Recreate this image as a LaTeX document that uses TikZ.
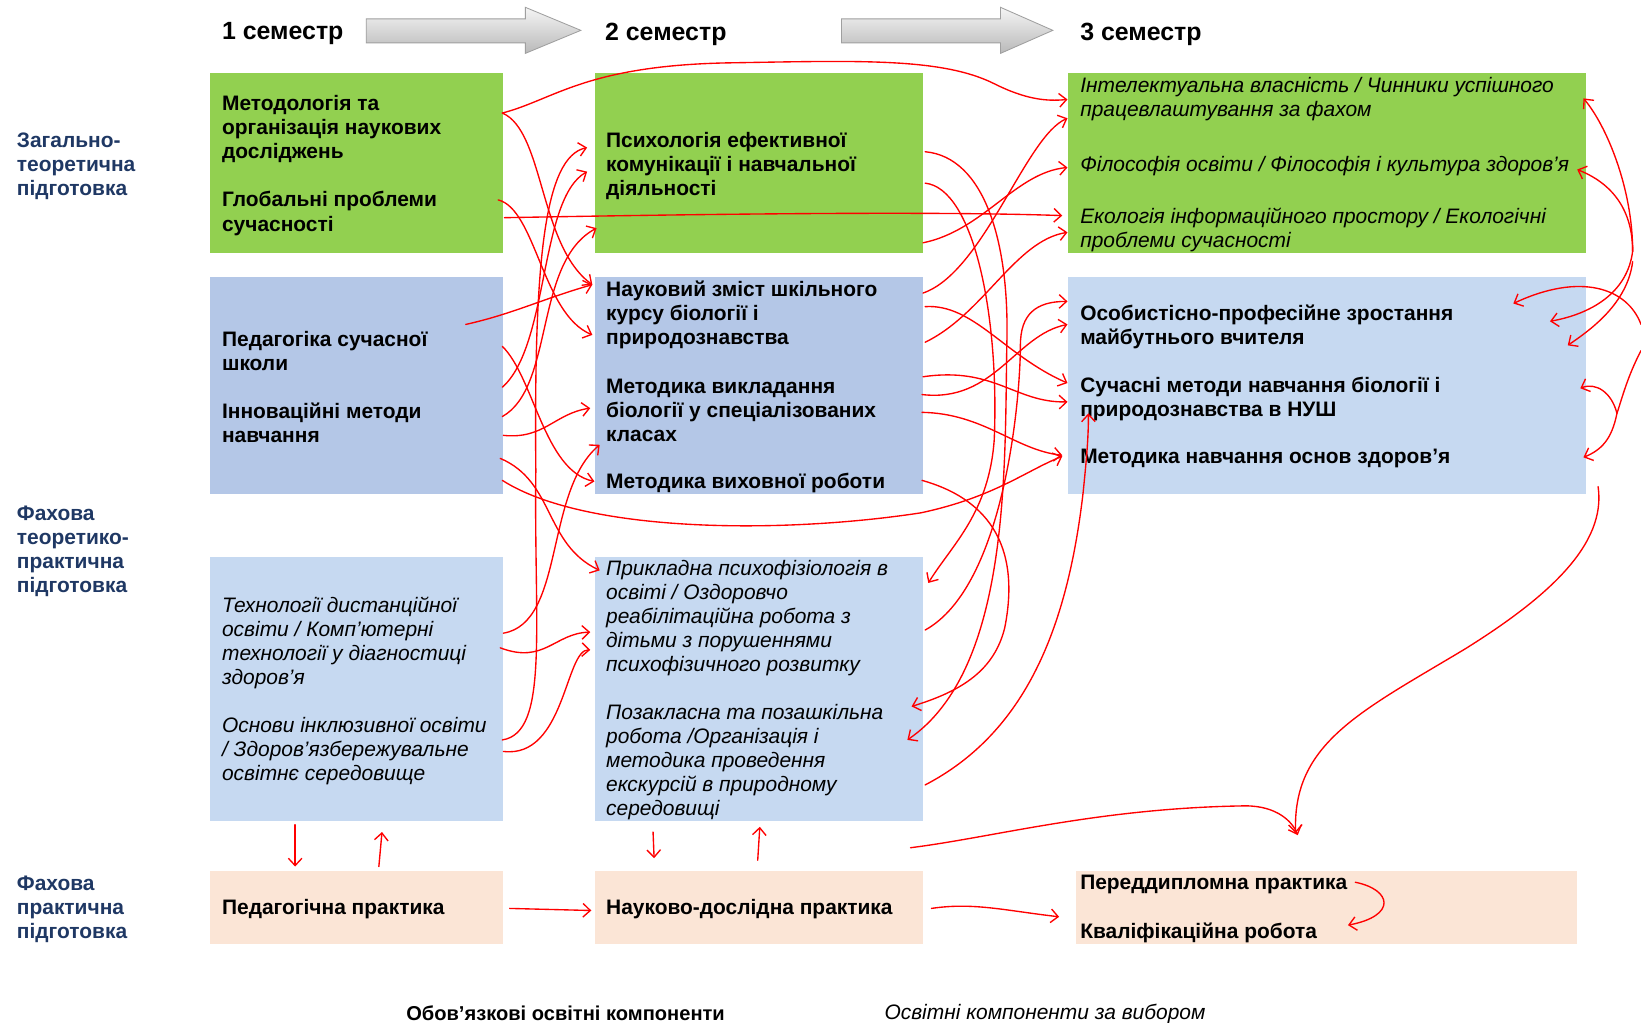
\documentclass[tikz,border=0pt]{standalone}
\usepackage{fontspec}
\setmainfont{Liberation Sans}
\usetikzlibrary{arrows.meta}
\definecolor{cgreen}{HTML}{92D050}
\definecolor{cblueD}{HTML}{B4C7E7}
\definecolor{cblueL}{HTML}{C6D9F1}
\definecolor{cpeach}{HTML}{FBE5D6}
\definecolor{cnavy}{HTML}{1F3864}
\definecolor{cred}{HTML}{FF0000}
\begin{document}
\begin{tikzpicture}[x=1pt,y=-1pt,
  box/.style={draw=none,inner sep=0pt,anchor=north west},
  bt/.style={anchor=west,align=left,inner sep=0pt,yshift=-2.5pt,font=\fontsize{20}{23}\selectfont\bfseries},
  itx/.style={anchor=west,align=left,inner sep=0pt,yshift=-2.5pt,font=\fontsize{20}{23}\selectfont\itshape},
  lab/.style={bt,text=cnavy},
  head/.style={anchor=west,inner sep=0pt,yshift=-2.5pt,font=\fontsize{23.8}{27}\selectfont\bfseries},
  rl/.style={draw=cred,line width=1.3pt,line cap=round,line join=round,-{Straight Barb[length=7pt,width=13pt,line width=1.3pt]}},
  garrow/.style={draw=gray!75,top color=gray!8,bottom color=gray!55,line width=0.8pt}
]
\useasboundingbox (0,0) rectangle (1568,977);
\fill[white] (0,0) rectangle (1568,977);

% headers
\node[head] (h1) at (212,30) {1 семестр};
\node[head] (h2) at (578,30) {2 семестр};
\node[head] (h3) at (1032,30) {3 семестр};
\path[garrow] (350,18) -- (502,18) -- (502,7) -- (555,29) -- (502,51) -- (502,41) -- (350,41) -- cycle;
\path[garrow] (804,18) -- (956,18) -- (956,7) -- (1006,29) -- (956,51) -- (956,41) -- (804,41) -- cycle;

% left labels
\node[lab] (l1) at (16,156) {Загально-\\теоретична\\підготовка};
\node[lab] (l2) at (16,524) {Фахова\\теоретико-\\практична\\підготовка};
\node[lab] (l3) at (16,866) {Фахова\\практична\\підготовка};

% boxes
\node[box,fill=cgreen,minimum width=280,minimum height=172] (g1) at (200,70) {};
\node[box,fill=cgreen,minimum width=314,minimum height=172] (g2) at (568,70) {};
\node[box,fill=cgreen,minimum width=495,minimum height=172] (g3) at (1020,70) {};
\node[box,fill=cblueD,minimum width=280,minimum height=208] (b1) at (200,264) {};
\node[box,fill=cblueD,minimum width=314,minimum height=208] (b2) at (568,264) {};
\node[box,fill=cblueL,minimum width=495,minimum height=208] (b3) at (1020,264) {};
\node[box,fill=cblueL,minimum width=280,minimum height=252] (c1) at (200,532) {};
\node[box,fill=cblueL,minimum width=314,minimum height=252] (c2) at (568,532) {};
\node[box,fill=cpeach,minimum width=280,minimum height=70] (p1) at (200,832) {};
\node[box,fill=cpeach,minimum width=314,minimum height=70] (p2) at (568,832) {};
\node[box,fill=cpeach,minimum width=479,minimum height=70] (p3) at (1028,832) {};

% texts row 1
\node[bt] (t1a) at (212,121) {Методологія та\\організація наукових\\досліджень};
\node[bt] (t1b) at (212,201.5) {Глобальні проблеми\\сучасності};
\node[bt] (t2a) at (579,156) {Психологія ефективної\\комунікації і навчальної\\діяльності};
\node[itx] (t3a) at (1032,92.5) {Інтелектуальна власність / Чинники успішного\\працевлаштування за фахом};
\node[itx] (t3b) at (1032,156) {Філософія освіти / Філософія і культура здоров’я};
\node[itx] (t3c) at (1032,217.5) {Екологія інформаційного простору / Екологічні\\проблеми сучасності};
% row 2
\node[bt] (u1a) at (212,332.5) {Педагогіка сучасної\\школи};
\node[bt] (u1b) at (212,401.5) {Інноваційні методи\\навчання};
\node[bt] (u2a) at (579,298) {Науковий зміст шкільного\\курсу біології і\\природознавства};
\node[bt] (u2b) at (579,390) {Методика викладання\\біології у спеціалізованих\\класах};
\node[bt] (u2c) at (579,459) {Методика виховної роботи};
\node[bt] (u3a) at (1032,309.5) {Особистісно-професійне зростання\\майбутнього вчителя};
\node[bt] (u3b) at (1032,378.5) {Сучасні методи навчання біології і\\природознавства в НУШ};
\node[bt] (u3c) at (1032,436) {Методика навчання основ здоров’я};
% row 3
\node[itx] (v1a) at (212,611.5) {Технології дистанційної\\освіти / Комп’ютерні\\технології у діагностиці\\здоров’я};
\node[itx] (v1b) at (212,715) {Основи інклюзивної освіти\\/ Здоров’язбережувальне\\освітнє середовище};
\node[itx] (v2a) at (579,588) {Прикладна психофізіологія в\\освіті / Оздоровчо\\реабілітаційна робота з\\дітьми з порушеннями\\психофізичного розвитку};
\node[itx] (v2b) at (579,726) {Позакласна та позашкільна\\робота /Організація і\\методика проведення\\екскурсій в природному\\середовищі};
% row 4
\node[bt] (w1) at (212,866) {Педагогічна практика};
\node[bt] (w2) at (579,866) {Науково-дослідна практика};
\node[bt] (w3a) at (1032,843) {Переддипломна практика};
\node[bt] (w3b) at (1032,889) {Кваліфікаційна робота};
% bottom legend
\node[bt,font=\fontsize{19.2}{22}\selectfont\bfseries] (leg1) at (388,966) {Обов’язкові освітні компоненти};
\node[itx] (leg2) at (845,966) {Освітні компоненти за вибором};

% red hand-drawn connectors, gap 1
\draw[rl] (480,108) .. controls (530,95) and (560,62) .. (700,60) .. controls (820,58) and (900,55) .. (950,80) .. controls (980,95) and (1000,97) .. (1020,95);
\draw[rl] (480,108) .. controls (520,125) and (515,235) .. (566,272);
\draw[rl] (476,191) .. controls (512,200) and (518,300) .. (566,320);
\draw[rl] (482,208) .. controls (700,204) and (900,202) .. (1015,206);
\draw[rl] (445,310) .. controls (490,300) and (520,285) .. (566,272);
\draw[rl] (480,331) .. controls (510,360) and (520,450) .. (568,460);
\draw[rl] (480,398) .. controls (530,370) and (510,250) .. (570,218);
\draw[rl] (480,370) .. controls (525,330) and (515,190) .. (561,164);
\draw[rl] (481,416) .. controls (520,420) and (530,395) .. (564,390);
\draw[rl] (478,438) .. controls (530,460) and (520,520) .. (573,545);
\draw[rl] (480,459) .. controls (560,510) and (750,510) .. (880,490) .. controls (950,475) and (980,450) .. (1015,436);
\draw[rl] (481,605) .. controls (540,595) and (520,470) .. (573,425);
\draw[rl] (478,619) .. controls (520,635) and (530,605) .. (564,604);
\draw[rl] (480,707) .. controls (525,700) and (510,600) .. (512,450) .. controls (510,250) and (520,150) .. (561,141);
\draw[rl] (481,718) .. controls (540,725) and (540,620) .. (564,621);
% gap 2
\draw[rl] (882,280) .. controls (940,260) and (980,130) .. (1020,113);
\draw[rl] (882,232) .. controls (940,220) and (970,165) .. (1020,160);
\draw[rl] (884,327) .. controls (940,300) and (970,230) .. (1020,222);
\draw[rl] (884,145) .. controls (940,150) and (965,230) .. (962,330) .. controls (960,450) and (965,640) .. (867,707);
\draw[rl] (884,175) .. controls (930,180) and (955,300) .. (950,420) .. controls (945,490) and (910,520) .. (887,557);
\draw[rl] (884,293) .. controls (930,290) and (960,340) .. (1020,366);
\draw[rl] (882,360) .. controls (950,350) and (970,385) .. (1020,384);
\draw[rl] (881,377) .. controls (950,385) and (970,320) .. (1020,310);
\draw[rl] (881,394) .. controls (940,395) and (970,430) .. (1015,435);
\draw[rl] (884,602) .. controls (960,560) and (975,380) .. (975,330) .. controls (975,300) and (990,288) .. (1020,288);
\draw[rl] (881,459) .. controls (920,470) and (980,500) .. (960,600) .. controls (950,640) and (920,660) .. (871,675);
\draw[rl] (884,750) .. controls (980,700) and (1020,600) .. (1035,470) .. controls (1038,440) and (1040,420) .. (1040,395);
% right side
\draw[rl] (1560,240) .. controls (1560,180) and (1535,120) .. (1513,94);
\draw[rl] (1560,240) .. controls (1560,200) and (1540,175) .. (1507,162);
\draw[rl] (1560,240) .. controls (1555,280) and (1520,300) .. (1481,307);
\draw[rl] (1560,250) .. controls (1555,290) and (1520,315) .. (1498,330);
\draw[rl] (1568,310) .. controls (1555,275) and (1510,260) .. (1446,290);
\draw[rl] (1568,335) .. controls (1555,360) and (1550,380) .. (1545,395) .. controls (1540,420) and (1530,430) .. (1513,437);
\draw[rl] (1545,395) .. controls (1540,375) and (1525,365) .. (1510,371);
\draw[rl] (1527,465) .. controls (1535,520) and (1480,570) .. (1400,620) .. controls (1300,680) and (1235,710) .. (1238,796);
\draw[rl] (870,810) .. controls (950,800) and (1050,772) .. (1190,770) .. controls (1220,770) and (1235,785) .. (1240,798);
% verticals and practice row
\draw[rl] (282,788) -- (282,828);
\draw[rl] (362,828) -- (365,795);
\draw[rl] (624,795) -- (625,820);
\draw[rl] (724,822) -- (726,790);
\draw[rl] (487,868) -- (565,870);
\draw[rl] (890,868) .. controls (930,862) and (960,870) .. (1012,876);
\draw[rl] (1295,843) .. controls (1330,850) and (1335,875) .. (1288,884);
\end{tikzpicture}
\end{document}
